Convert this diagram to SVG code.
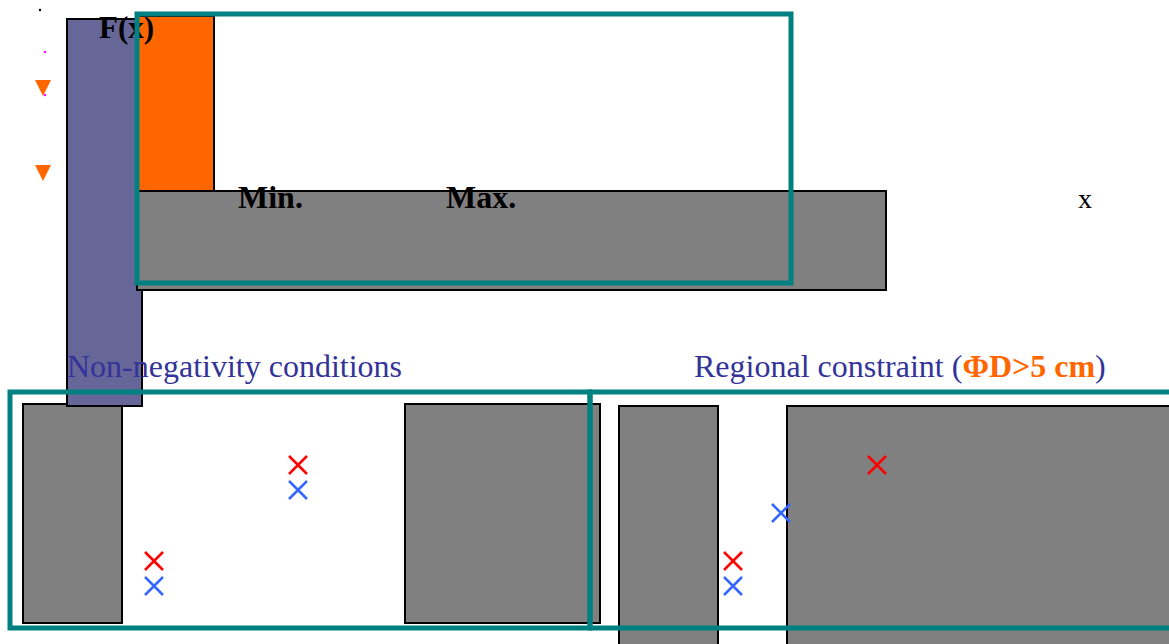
<svg xmlns="http://www.w3.org/2000/svg" width="1169" height="644" viewBox="0 0 1169 644">
<style>
.g{fill:#808080;stroke:#000;stroke-width:2}
.t{fill:none;stroke:#008080;stroke-width:5}
.b{font-family:"Liberation Serif",serif;font-weight:bold;fill:#000}
.lbl{font-family:"Liberation Serif",serif;font-size:32px;fill:#333399}
.xr{stroke:#ff0000;stroke-width:2.5}
.xb{stroke:#3366ff;stroke-width:2.5}
.tri{fill:#ff6600}
</style>
<defs>
<path id="cx" d="M-9,-9L9,9M9,-9L-9,9"/>
</defs>
<rect width="1169" height="644" fill="#fff"/>
<g id="bottom-boxes">
<rect id="box1" class="g" x="23" y="404" width="99" height="219"/>
<rect id="box2" class="g" x="405" y="404" width="195" height="219"/>
<rect id="box3" class="g" x="619" y="406" width="99" height="250"/>
<rect id="box4" class="g" x="787" y="406" width="400" height="250"/>
</g>
<g id="axis-bar">
<rect class="g" x="67" y="19" width="75" height="387" style="fill:#666699"/>
</g>
<g id="fx-bar">
<rect class="g" x="138" y="16" width="76" height="175" style="fill:#ff6600"/>
</g>
<g id="x-bar">
<rect class="g" x="137" y="191" width="749" height="99"/>
</g>
<g id="markers">
<circle cx="40" cy="10" r="1.2" fill="#000"/>
<circle cx="45" cy="52" r="1.2" fill="#ff00ff"/>
<path class="tri" d="M35,80L51,80L43,96Z"/>
<circle cx="45" cy="95" r="1.2" fill="#ff00ff"/>
<path class="tri" d="M35,165L51,165L43,181Z"/>
</g>
<g id="labels">
<text class="b" x="99" y="38" font-size="31">F(x)</text>
<text class="b" x="238" y="208" font-size="32">Min.</text>
<text class="b" x="446" y="208" font-size="32">Max.</text>
<text x="1078" y="208" font-family="Liberation Serif,serif" font-size="28" fill="#000">x</text>
<text class="lbl" x="67" y="377">Non-negativity conditions</text>
<text class="lbl" x="694" y="377">Regional constraint (<tspan font-weight="bold" fill="#ff6600">ΦD&gt;5 cm</tspan>)</text>
</g>
<g id="crosses">
<use href="#cx" class="xr" x="298" y="465"/>
<use href="#cx" class="xb" x="298" y="490"/>
<use href="#cx" class="xr" x="154" y="561"/>
<use href="#cx" class="xb" x="154" y="586"/>
<use href="#cx" class="xr" x="733" y="561"/>
<use href="#cx" class="xb" x="733" y="586"/>
<use href="#cx" class="xb" x="781" y="513"/>
<use href="#cx" class="xr" x="877" y="465"/>
</g>
<g id="frames">
<rect class="t" x="137" y="14" width="654" height="269"/>
<rect class="t" x="10" y="392" width="580" height="236"/>
<rect class="t" x="590" y="392" width="600" height="236"/>
</g>
</svg>
